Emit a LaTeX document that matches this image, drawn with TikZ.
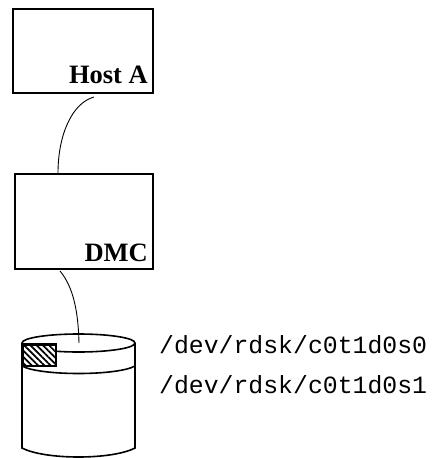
\documentclass[tikz,border=0pt]{standalone}
\usepackage{fontspec}
\setmainfont{Liberation Serif}
\newfontfamily\monofont{Liberation Mono}
\usetikzlibrary{patterns.meta,shapes.geometric}
\begin{document}
\begin{tikzpicture}[x=1pt,y=-1pt,
  boxnode/.style={draw,line width=2.2pt,minimum width=140pt,minimum height=84pt,inner sep=0pt},
  boxlabel/.style={font=\fontsize{26.5}{26.5}\selectfont\bfseries,inner sep=0pt,anchor=base east},
  pathlabel/.style={font=\monofont\fontsize{24.8}{24.8}\selectfont,inner sep=0pt,anchor=base west},
  cable/.style={line width=0.9pt},
  disk/.style={line width=1.6pt}]
\useasboundingbox (0,0) rectangle (435,458);

% hosts / controllers
\node[boxnode] (host) at (83,51) {};
\node[boxlabel] (hostlbl) at (148,83) {Host A};
\node[boxnode,minimum width=138pt,minimum height=95pt] (dmc) at (84,221.5) {};
\node[boxlabel] (dmclbl) at (148,261) {DMC};

% disk drum
\node[draw,disk,ellipse,minimum width=113pt,minimum height=18pt,inner sep=0pt] (top) at (78.5,343) {};
\coordinate (ltop) at (22,343);
\coordinate (rtop) at (135,343);
\coordinate (lbot) at (22,448);
\coordinate (rbot) at (135,448);
\coordinate (lmid) at (22,366);
\coordinate (rmid) at (135,366);
\draw[disk] (ltop) -- (lbot) .. controls (45,460) and (112,460) .. (rbot) -- (rtop);
\draw[disk] (lmid) .. controls (40,376) and (117,376) .. (rmid);

% hatched slice on the drum
\node[draw,disk,fill=white,minimum width=33pt,minimum height=21pt,inner sep=0pt,
      anchor=north west] (slice) at (22,344) {};
\fill[pattern={Lines[angle=-45,distance=4.4pt,line width=1.7pt]}]
  (slice.south west) rectangle (slice.north east);
\draw[disk] (slice.south west) rectangle (slice.north east);

% cables
\coordinate (c1a) at (94,97);
\coordinate (c1b) at (58,173);
\draw[cable] (c1a) .. controls (72,103) and (58,135) .. (c1b);
\coordinate (c2a) at (60,271);
\coordinate (c2b) at (79,343);
\draw[cable] (c2a) .. controls (69,282) and (78,300) .. (c2b);

% device paths
\node[pathlabel] (p0) at (159,353) {/dev/rdsk/c0t1d0s0};
\node[pathlabel] (p1) at (159,393) {/dev/rdsk/c0t1d0s1};
\end{tikzpicture}
\end{document}
